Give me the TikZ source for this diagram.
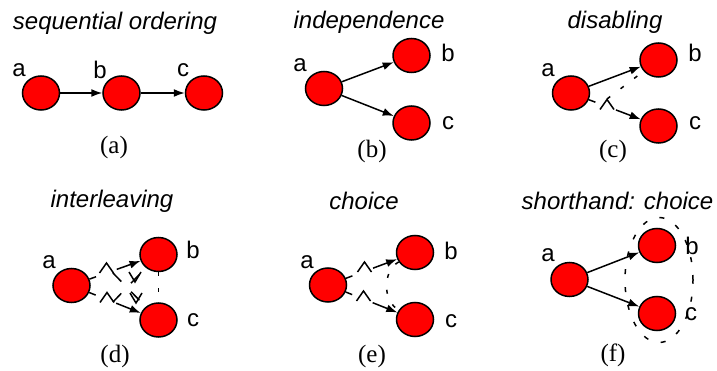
\documentclass[tikz,border=0pt]{standalone}
\usepackage{fontspec}
\setmainfont{Liberation Serif}
\setsansfont{Liberation Sans}
\usepackage{tikz}
\usetikzlibrary{arrows.meta,shapes.geometric}

\tikzset{
  pics/caret/.style={code={\draw[line width=1.5pt] (-7,5) -- (0,-5) -- (7,5);}},
  pics/vee/.style={code={\draw[line width=1.5pt] (-6,-5) -- (0,5) -- (6,-5);}}
}

\begin{document}
\begin{tikzpicture}[x=1pt,y=-1pt,
    proc/.style={ellipse,draw,fill=red,line width=1.5pt,minimum width=37pt,minimum height=34pt,inner sep=0pt},
    lbl/.style={font=\fontsize{24}{28}\selectfont\sffamily,inner sep=0pt},
    ttl/.style={font=\fontsize{24}{28}\selectfont\sffamily\itshape,inner sep=0pt},
    subcap/.style={font=\fontsize{25}{30}\selectfont\rmfamily,inner sep=0pt},
    edge/.style={line width=1.5pt,-{Latex[length=11pt,width=8pt]}},
    gapedge/.style={edge,dash pattern=on 7pt off 22pt on 400pt},
    dshl/.style={line width=1.5pt,dash pattern=on 4pt off 13pt},
    dshs/.style={line width=1.5pt,dash pattern=on 4pt off 12pt}]
    \useasboundingbox (0,0) rectangle (717,371);

    % (a) sequential ordering
    \node[ttl] (t1) at (115,23) {sequential ordering};
    \node[proc] (a1) at (41,93) {};
    \node[proc] (b1) at (121.5,93) {};
    \node[proc] (c1) at (204,93) {};
    \node[lbl] (la1) at (19,70) {a};
    \node[lbl] (lb1) at (100,70) {b};
    \node[lbl] (lc1) at (183,70) {c};
    \draw[edge] (a1) -- (b1);
    \draw[edge] (b1) -- (c1);
    \node[subcap] (k1) at (114,147.5) {(a)};

    % (b) independence
    \node[ttl] (t2) at (369,22.5) {independence};
    \node[proc] (a2) at (324,88.5) {};
    \node[proc] (b2) at (411.5,55.5) {};
    \node[proc] (c2) at (411.5,123) {};
    \node[lbl] (la2) at (300,65) {a};
    \node[lbl] (lb2) at (448,53) {b};
    \node[lbl] (lc2) at (448,123) {c};
    \draw[edge] (a2) -- (b2);
    \draw[edge] (a2) -- (c2);
    \node[subcap] (k2) at (372,151) {(b)};

    % (c) disabling
    \node[ttl] (t3) at (615,22.5) {disabling};
    \node[proc] (a3) at (571,93) {};
    \node[proc] (b3) at (658.5,60) {};
    \node[proc] (c3) at (658.5,126) {};
    \node[lbl] (la3) at (548,70) {a};
    \node[lbl] (lb3) at (695,53) {b};
    \node[lbl] (lc3) at (695,123) {c};
    \draw[edge] (a3) -- (b3);
    \draw[gapedge] (a3) -- (c3);
    \pic at (607,104.5) {caret};
    \coordinate (m3) at (607,99);
    \draw[dshl] (m3) -- (b3);
    \node[subcap] (k3) at (613,151) {(c)};

    % (d) interleaving
    \node[ttl] (t4) at (112,201) {interleaving};
    \node[proc] (a4) at (71.5,285.5) {};
    \node[proc] (b4) at (158.5,254.5) {};
    \node[proc] (c4) at (158.5,320) {};
    \node[lbl] (la4) at (49,262) {a};
    \node[lbl] (lb4) at (193,250) {b};
    \node[lbl] (lc4) at (193,320) {c};
    \draw[gapedge] (a4) -- (b4);
    \draw[gapedge] (a4) -- (c4);
    \pic at (106.5,268) {caret};
    \pic at (107,297.5) {caret};
    \coordinate (m4) at (113,273);
    \coordinate (n4) at (113,302);
    \draw[line width=1.5pt,dash pattern=on 12pt off 14pt] (m4) -- (c4);
    \draw[line width=1.5pt,dash pattern=on 12pt off 14pt] (n4) -- (b4);
    \pic at (135,277) {vee};
    \pic at (136,298) {vee};
    \draw[dshs] (b4) -- (c4);
    \node[subcap] (k4) at (115,356) {(d)};

    % (e) choice
    \node[ttl] (t5) at (364,201) {choice};
    \node[proc] (a5) at (328,285) {};
    \node[proc] (b5) at (415,252.5) {};
    \node[proc] (c5) at (415,319.5) {};
    \node[lbl] (la5) at (307,262) {a};
    \node[lbl] (lb5) at (451,251) {b};
    \node[lbl] (lc5) at (451,321) {c};
    \draw[gapedge] (a5) -- (b5);
    \draw[gapedge] (a5) -- (c5);
    \pic at (364.5,267) {caret};
    \pic at (363.5,296) {caret};
    \draw[dshs] (b5) to[bend right=60] (c5);
    \node[subcap] (k5) at (372,356) {(e)};

    % (f) shorthand: choice
    \node[ttl] (t6) at (617.5,201) {shorthand: choice};
    \node[ellipse,draw,line width=1.5pt,dash pattern=on 5pt off 13pt,minimum width=68pt,minimum height=125pt] (g6) at (659,280) {};
    \node[proc] (a6) at (569.5,279.5) {};
    \node[proc] (b6) at (657,245.5) {};
    \node[proc] (c6) at (657,313.5) {};
    \node[lbl] (la6) at (548,255) {a};
    \node[lbl] (lb6) at (692,246) {b};
    \node[lbl] (lc6) at (691,314) {c};
    \draw[edge] (a6) -- (b6);
    \draw[edge] (a6) -- (c6);
    \node[subcap] (k6) at (613,355) {(f)};
\end{tikzpicture}
\end{document}
